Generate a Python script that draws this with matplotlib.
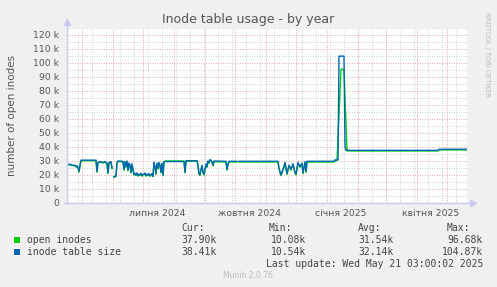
import numpy as np
import pandas as pd
import matplotlib
matplotlib.use("Agg")
import matplotlib.pyplot as plt
from matplotlib.patches import Rectangle

start = pd.Timestamp("2024-04-16")
end = pd.Timestamp("2025-05-21")

# days since start, values in thousands of inodes
table_days = [0, 4, 5, 8, 9, 10, 11, 12, 13, 14, 29, 30, 31, 33, 36, 38, 40, 41, 42, 44,
              45, 46, 47, 49, 50, 51, 56, 57, 58, 59, 60, 61, 62, 63, 64, 65, 66, 67, 68, 69,
              70, 71, 72, 73, 74, 75, 76, 77, 78, 79, 80, 81, 82, 83, 84, 85, 86, 87, 88, 89,
              90, 91, 92, 93, 94, 95, 96, 97, 98, 117, 118, 119, 130, 131, 132, 133, 134, 135, 136, 137,
              138, 139, 140, 141, 142, 143, 144, 145, 146, 147, 159, 160, 161, 162, 170, 171, 172, 211, 212, 214,
              216, 218, 220, 222, 224, 226, 228, 229, 231, 233, 235, 236, 238, 239, 240, 267, 268, 271, 272, 277,
              278, 279, 371, 372, 400]
table_size = [27.5, 27.6, 27.0, 27.0, 26.0, 26.6, 25.5, 22.5, 27.0, 30.6, 30.6, 22.5, 29.0, 29.6, 29.0, 29.6, 28.5, 21.5, 29.0, 29.5,
              25.0, np.nan, 18.8, 19.3, 29.0, 30.0, 29.8, 24.0, 29.6, 26.0, 30.0, 23.5, 28.5, 27.0, 22.0, 28.0, 24.0, 20.5, 21.2, 20.0,
              21.5, 19.6, 20.6, 20.0, 21.2, 19.6, 20.6, 20.4, 21.5, 19.6, 20.6, 20.0, 21.0, 19.5, 20.2, 21.0, 19.2, 29.0, 26.0, 21.0,
              28.5, 25.0, 29.0, 27.0, 22.0, 28.5, 20.0, 29.5, 29.6, 29.6, 22.0, 30.2, 30.2, 27.0, 21.0, 20.2, 24.0, 27.0, 22.0, 20.5,
              24.0, 28.0, 26.0, 30.0, 29.0, 31.0, 30.5, 29.5, 27.0, 30.0, 29.8, 24.0, 28.0, 29.8, 29.8, np.nan, 29.8, 29.8, 25.0, 20.0,
              24.0, 29.0, 21.0, 27.0, 24.0, 28.0, 22.0, 20.5, 29.0, 26.0, 28.5, 21.5, 29.5, 22.5, 29.8, 29.8, 30.8, 30.8, 104.9, 104.9,
              40.0, 37.6, 37.6, 38.4, 38.4]

open_days = [0, 4, 5, 8, 9, 10, 11, 12, 13, 14, 29, 30, 31, 33, 36, 38, 40, 41, 42, 44,
             45, 46, 47, 49, 50, 51, 56, 57, 58, 59, 60, 61, 62, 63, 64, 65, 66, 67, 68, 69,
             70, 71, 72, 73, 74, 75, 76, 77, 78, 79, 80, 81, 82, 83, 84, 85, 86, 87, 88, 89,
             90, 91, 92, 93, 94, 95, 96, 97, 98, 117, 118, 119, 130, 131, 132, 133, 134, 135, 136, 137,
             138, 139, 140, 141, 142, 143, 144, 145, 146, 147, 159, 160, 161, 162, 170, 171, 172, 211, 212, 214,
             216, 218, 220, 222, 224, 226, 228, 229, 231, 233, 235, 236, 238, 239, 240, 267, 268, 270, 274, 277,
             280, 371, 372, 400]
open_inodes = [27.2, 27.3, 26.7, 26.7, 25.6, 26.3, 25.0, 22.0, 26.6, 30.2, 30.2, 22.0, 28.6, 29.2, 28.6, 29.2, 28.0, 21.0, 28.6, 29.1,
               24.5, np.nan, 18.4, 18.9, 28.6, 29.6, 29.4, 23.5, 29.2, 25.5, 29.6, 23.0, 28.0, 26.5, 21.5, 27.5, 23.5, 20.0, 20.8, 19.6,
               21.0, 19.2, 20.2, 19.6, 20.8, 19.2, 20.2, 20.0, 21.0, 19.2, 20.2, 19.6, 20.6, 19.0, 19.8, 20.6, 18.8, 28.5, 25.5, 20.5,
               28.0, 24.5, 28.5, 26.5, 21.5, 28.0, 19.5, 29.2, 30.0, 30.0, 21.5, 29.8, 29.8, 26.5, 20.5, 19.7, 23.5, 26.5, 21.5, 20.0,
               23.5, 27.5, 25.5, 29.5, 28.5, 30.5, 30.0, 29.0, 26.5, 29.5, 29.3, 23.5, 27.5, 29.3, 29.3, np.nan, 29.3, 29.3, 24.5, 19.5,
               23.5, 28.5, 20.5, 26.5, 23.5, 27.5, 21.5, 20.0, 28.5, 25.5, 28.0, 21.0, 29.0, 22.0, 29.3, 29.3, 30.3, 30.3, 95.5, 95.5,
               37.2, 37.2, 37.9, 37.9]

label_dates = ["2024-07-15", "2024-10-15", "2025-01-15", "2025-04-15"]
month_labels = ["липня 2024", "жовтня 2024", "січня 2025", "квітня 2025"]

legend_names = ["open inodes", "inode table size"]
legend_colors = ["#00CC00", "#0066B3"]
cur = ["37.90k", "38.41k"]
mins = ["10.08k", "10.54k"]
avgs = ["31.54k", "32.14k"]
maxs = ["96.68k", "104.87k"]

W, H = 497, 287
def fx(px):
    return px / W
def fy(py):
    return 1 - py / H

fig = plt.figure(figsize=(W / 100, H / 100), dpi=100, facecolor="#F0F0F0")
ax = fig.add_axes([fx(67), fy(203), 400 / W, 175 / H])
ax.set_facecolor("white")

red = "#E4A8A8"
grey = "#CFCFCF"
dots = (0, (1, 1.5))
for v in range(5, 130, 5):
    ax.axhline(v, color=red if v % 10 == 0 else grey, lw=0.7, ls=dots, zorder=1)
for d in pd.date_range("2024-04-27", end, freq="14D"):
    ax.axvline(d, color=grey, lw=0.7, ls=dots, zorder=1)
for d in pd.date_range("2024-05-01", "2025-05-01", freq="MS"):
    ax.axvline(d, color=red, lw=0.7, ls=dots, zorder=1)

open_dates = start + pd.to_timedelta(open_days, unit="D")
table_dates = start + pd.to_timedelta(table_days, unit="D")
ax.plot(open_dates, open_inodes, color="#00CC00", lw=1.0, zorder=3)
ax.plot(table_dates, table_size, color="#0066B3", lw=1.0, zorder=4)

ax.set_xlim(start, end)
ax.set_ylim(0, 125)
for s in ax.spines.values():
    s.set_visible(False)

ax.set_yticks(range(0, 130, 10))
ax.set_yticklabels(["0"] + [f"{v} k" for v in range(10, 130, 10)])
ax.set_xticks(pd.to_datetime(label_dates))
ax.set_xticklabels(month_labels)
ax.tick_params(axis="y", length=0, labelsize=6.7, labelcolor="#555555", pad=5.5)
ax.tick_params(axis="x", length=0, labelsize=6.7, labelcolor="#555555", pad=4)

# axis lines with arrows
axc = "#C8C8F4"
ax.plot([0, 0], [0, 1.03], color=axc, lw=1, transform=ax.transAxes, clip_on=False, zorder=5)
ax.plot([-0.008, 1.012], [0, 0], color=axc, lw=1, transform=ax.transAxes, clip_on=False, zorder=5)
ax.plot([0], [1.035], marker="^", ms=4, color=axc, transform=ax.transAxes, clip_on=False)
ax.plot([1.014], [0], marker=">", ms=4, color=axc, transform=ax.transAxes, clip_on=False)

fig.text(fx(248), fy(19), "Inode table usage - by year", ha="center", va="center",
         fontsize=9, color="#555555")
fig.text(fx(12), fy(115), "number of open inodes", rotation=90, ha="center", va="center",
         fontsize=7.5, color="#555555")
fig.text(fx(487), fy(55), "RRDTOOL / TOBI OETIKER", rotation=270, ha="center", va="center",
         fontsize=4.8, color="#BBBBBB")

mono = "DejaVu Sans Mono"
tc = "#444444"
for x, h in zip([181, 269, 358, 447], ["Cur:", "Min:", "Avg:", "Max:"]):
    fig.text(fx(x), fy(228), h, ha="left", va="center", fontsize=7, family=mono, color=tc)
for i in range(2):
    y = 240 + 12 * i
    fig.patches.append(Rectangle((fx(14), fy(y + 3)), 6 / W, 6 / H, transform=fig.transFigure,
                                 facecolor=legend_colors[i], edgecolor="none"))
    fig.text(fx(27), fy(y), legend_names[i], ha="left", va="center", fontsize=7, family=mono, color=tc)
    for x, val in zip([217, 306, 394, 483], [cur[i], mins[i], avgs[i], maxs[i]]):
        fig.text(fx(x), fy(y), val, ha="right", va="center", fontsize=7, family=mono, color=tc)
fig.text(fx(483), fy(264), "Last update: Wed May 21 03:00:02 2025", ha="right", va="center",
         fontsize=7, family=mono, color=tc)
fig.text(fx(248), fy(276), "Munin 2.0.76", ha="center", va="center", fontsize=5.5, color="#BBBBBB")

fig.savefig("out.png", dpi=100, facecolor=fig.get_facecolor())
